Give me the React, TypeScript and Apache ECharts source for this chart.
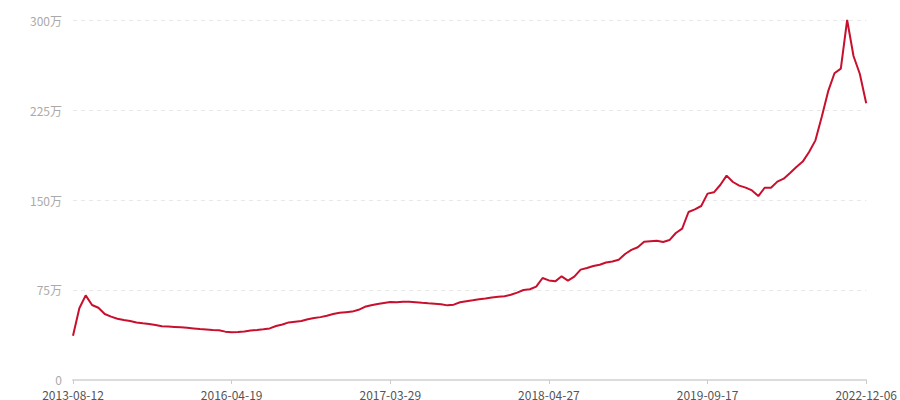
import React, { useEffect, useRef } from "react";
import * as echarts from "echarts";

// Labelled dates on the x axis (every 25th category)
const anchorDates = ["2013-08-12", "2016-04-19", "2017-03-29", "2018-04-27", "2019-09-17", "2022-12-06"];
const stepPerAnchor = 25;

// Values in 万
const values = [
  36.9, 59.8, 70.5, 62.5, 60.2, 55, 52.8, 51.1, 50, 49.2,
  48, 47.2, 46.7, 45.8, 44.8, 44.5, 44.2, 43.9, 43.5, 43,
  42.5, 42.1, 41.7, 41.4, 40.3, 39.7, 40, 40.5, 41.2, 41.7,
  42.3, 43, 45, 46.3, 48, 48.6, 49.2, 50.6, 51.7, 52.4,
  53.6, 55, 56, 56.5, 57, 58.5, 61, 62.3, 63.4, 64.2,
  65, 64.7, 65.2, 65.2, 64.8, 64.3, 63.9, 63.6, 63.2, 62.2,
  62.8, 64.8, 65.7, 66.4, 67.3, 68, 68.8, 69.3, 69.8, 71,
  72.8, 75, 75.6, 77.8, 85, 83, 82.2, 86.4, 82.8, 86.1,
  92, 93.3, 95, 96.1, 97.9, 98.7, 100.2, 105, 108.4, 110.6,
  115.3, 115.7, 116, 115, 116.6, 122.5, 126.2, 140, 142.2, 145,
  155.3, 156.4, 162.5, 170.3, 165, 162, 160.3, 158, 153.3, 160.2,
  160.2, 165.3, 167.8, 172.5, 177.5, 182, 190, 199.7, 219.4, 240.5,
  255.6, 259.5, 300, 270, 255, 230.6,
];

const yTicks = [0, 75, 150, 225, 300];

function buildCategories(): string[] {
  const out: string[] = [];
  for (let a = 0; a < anchorDates.length - 1; a++) {
    const t0 = Date.parse(anchorDates[a] + "T00:00:00Z");
    const t1 = Date.parse(anchorDates[a + 1] + "T00:00:00Z");
    for (let k = 0; k < stepPerAnchor; k++) {
      const t = t0 + ((t1 - t0) * k) / stepPerAnchor;
      out.push(k === 0 ? anchorDates[a] : new Date(t).toISOString().slice(0, 10));
    }
  }
  out.push(anchorDates[anchorDates.length - 1]);
  return out;
}

const categories = buildCategories();

export default function App() {
  const ref = useRef<HTMLDivElement>(null);
  useEffect(() => {
    if (!ref.current) return;
    const chart = echarts.init(ref.current, undefined, { renderer: "svg" });
    chart.setOption({
      animation: false,
      backgroundColor: "#fff",
      textStyle: { fontFamily: "'Microsoft YaHei', 'Noto Sans CJK SC', sans-serif" },
      grid: { left: 73, right: 33, top: 20, bottom: 20, containLabel: false },
      xAxis: {
        type: "category",
        boundaryGap: false,
        data: categories,
        axisLine: { lineStyle: { color: "#dcdcdc", width: 2 } },
        axisTick: { show: true, interval: stepPerAnchor - 1, length: 4, lineStyle: { color: "#cccccc" } },
        axisLabel: {
          interval: stepPerAnchor - 1,
          color: "#555",
          fontSize: 12,
          margin: 8,
        },
        splitLine: { show: false },
      },
      yAxis: {
        type: "value",
        min: 0,
        max: yTicks[yTicks.length - 1],
        interval: yTicks[1] - yTicks[0],
        axisLine: { show: false },
        axisTick: { show: false },
        axisLabel: {
          color: "#aaa",
          fontSize: 12,
          margin: 11,
          formatter: (v: number) => (v === 0 ? "0" : v + "万"),
        },
        splitLine: { lineStyle: { color: "#e8e8e8", type: [4, 4] } },
      },
      series: [
        {
          type: "line",
          data: values,
          showSymbol: false,
          symbol: "none",
          lineStyle: { color: "#c8102e", width: 2 },
          itemStyle: { color: "#c8102e" },
        },
      ],
    });
    return () => chart.dispose();
  }, []);
  return <div ref={ref} style={{ width: 900, height: 400, position: "absolute", left: 0, top: 0 }} />;
}
